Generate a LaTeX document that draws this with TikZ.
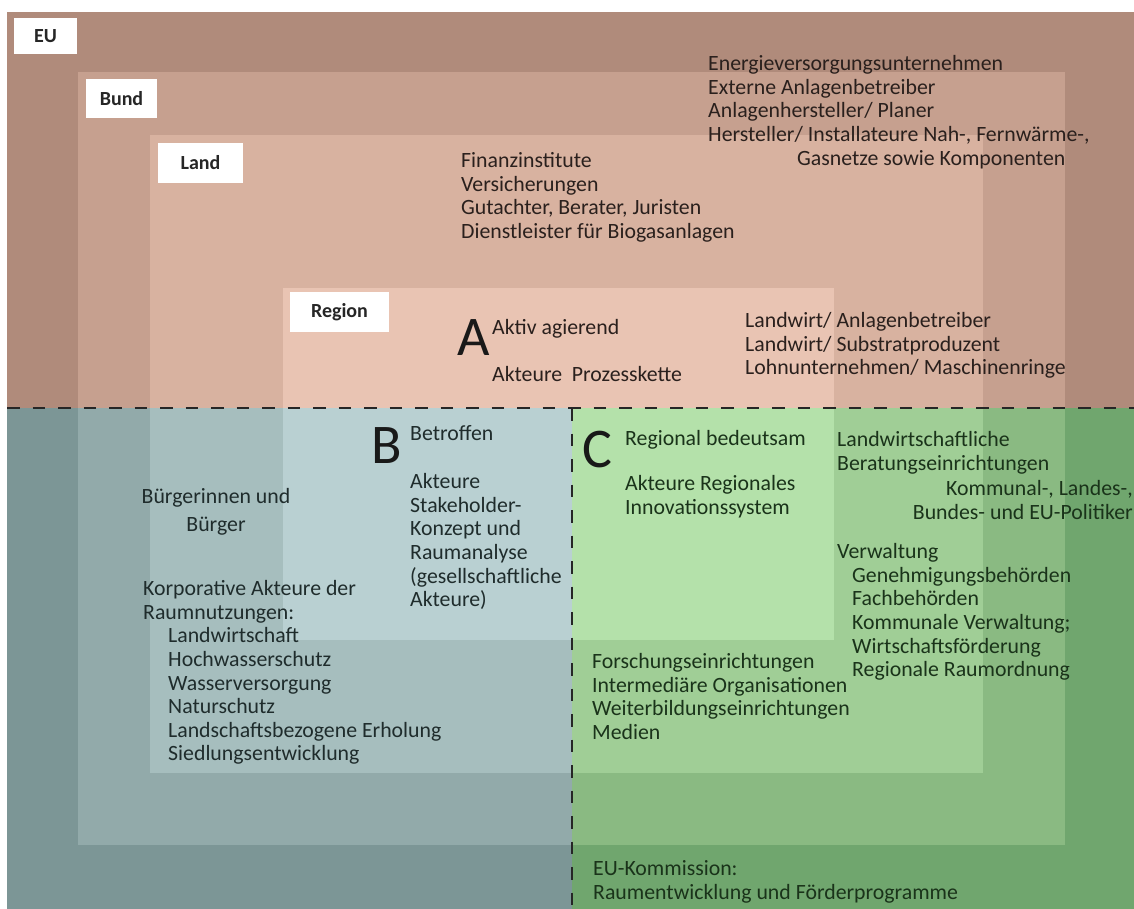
\documentclass[tikz,border=0pt]{standalone}
\usepackage{fontspec}
\setmainfont{Carlito}
\definecolor{upEU}{HTML}{B08B7B}
\definecolor{upBund}{HTML}{C6A08F}
\definecolor{upLand}{HTML}{D8B2A0}
\definecolor{upRegion}{HTML}{E9C4B3}
\definecolor{blEU}{HTML}{7C9696}
\definecolor{blBund}{HTML}{92AAAA}
\definecolor{blLand}{HTML}{A6BEBE}
\definecolor{blRegion}{HTML}{B9D0D2}
\definecolor{grEU}{HTML}{70A66E}
\definecolor{grBund}{HTML}{8ABA82}
\definecolor{grLand}{HTML}{A0CE96}
\definecolor{grRegion}{HTML}{B4E1AA}
\definecolor{inkUp}{HTML}{2A201D}
\definecolor{inkBl}{HTML}{1F2C2C}
\definecolor{inkGr}{HTML}{1A331A}
\definecolor{divider}{HTML}{262626}
\begin{document}
\begin{tikzpicture}[x=1pt,y=-1pt,
  txt/.style={anchor=north west, inner sep=0pt, align=left,
    font=\fontsize{21.8}{23.6}\selectfont},
  bigletter/.style={anchor=base west, inner sep=0pt,
    font=\fontsize{56}{60}\selectfont, text=black!90},
  levellabel/.style={fill=white, inner sep=0pt, text=black!85,
    font=\fontsize{20}{24}\selectfont\bfseries},
  dividerline/.style={draw=divider, line width=2.5pt,
    dash pattern=on 12.5pt off 13pt}]
\useasboundingbox (0,0) rectangle (1134,909);

% nested levels: EU > Bund > Land > Region, tinted per sector
\begin{scope}
  \clip (7,12) rectangle (1134,408);
  \fill[upEU] (7,12) rectangle (1134,909);
  \fill[upBund] (78,72) rectangle (1065,845);
  \fill[upLand] (150,135) rectangle (983,773);
  \fill[upRegion] (283,288) rectangle (834,640);
\end{scope}
\begin{scope}
  \clip (7,408) rectangle (572,909);
  \fill[blEU] (7,12) rectangle (1134,909);
  \fill[blBund] (78,72) rectangle (1065,845);
  \fill[blLand] (150,135) rectangle (983,773);
  \fill[blRegion] (283,288) rectangle (834,640);
\end{scope}
\begin{scope}
  \clip (572,408) rectangle (1134,909);
  \fill[grEU] (7,12) rectangle (1134,909);
  \fill[grBund] (78,72) rectangle (1065,845);
  \fill[grLand] (150,135) rectangle (983,773);
  \fill[grRegion] (283,288) rectangle (834,640);
\end{scope}

% level labels
\node[levellabel, minimum width=63pt, minimum height=36pt] (eu) at (45.5,36) {EU};
\node[levellabel, minimum width=71pt, minimum height=39pt] (bund) at (121.5,98.5) {Bund};
\node[levellabel, minimum width=85pt, minimum height=40pt] (land) at (200.5,163) {Land};
\node[levellabel, minimum width=99pt, minimum height=40pt] (region) at (339.5,312) {Region};

% sector A: actors of the process chain
\begin{scope}[text=inkUp]
\node[txt] (energie) at (708,54) {\strut Energieversorgungsunternehmen\\
  Externe Anlagenbetreiber\\
  Anlagenhersteller/ Planer\\
  Hersteller/ Installateure Nah-, Fernwärme-,\\
  \hspace*{89pt}Gasnetze sowie Komponenten};
\node[txt] (finanz) at (461,151) {\strut Finanzinstitute\\
  Versicherungen\\
  Gutachter, Berater, Juristen\\
  Dienstleister für Biogasanlagen};
\node[txt] (aktiv) at (492,318) {\strut Aktiv agierend};
\node[txt] (prozess) at (492,365) {\strut Akteure\hspace{0.22em} Prozesskette};
\node[txt] (landwirt) at (745,311) {\strut Landwirt/ Anlagenbetreiber\\
  Landwirt/ Substratproduzent\\
  Lohnunternehmen/ Maschinenringe};
\end{scope}
\node[bigletter] (letterA) at (457,355) {A};

% sector B: affected actors
\begin{scope}[text=inkBl]
\node[txt] (betroffen) at (410,424) {\strut Betroffen};
\node[txt] (akteureB) at (410,472) {\strut Akteure\\
  Stakeholder-\\
  Konzept und\\
  Raumanalyse\\
  (gesellschaftliche\\
  Akteure)};
\node[txt, anchor=north, align=center] (buerger) at (216,487) {\strut Bürgerinnen und\\[4.5pt]
  Bürger};
\node[txt] (korporativ) at (143,579) {\strut Korporative Akteure der\\
  Raumnutzungen:\\
  \hspace*{25pt}Landwirtschaft\\
  \hspace*{25pt}Hochwasserschutz\\
  \hspace*{25pt}Wasserversorgung\\
  \hspace*{25pt}Naturschutz\\
  \hspace*{25pt}Landschaftsbezogene Erholung\\
  \hspace*{25pt}Siedlungsentwicklung};
\end{scope}
\node[bigletter] (letterB) at (371,463) {B};

% sector C: regional innovation system
\begin{scope}[text=inkGr]
\node[txt] (regional) at (625,429) {\strut Regional bedeutsam};
\node[txt] (akteureC) at (625,474) {\strut Akteure Regionales\\
  Innovationssystem};
\node[txt] (beratung) at (837,430) {\strut Landwirtschaftliche\\
  Beratungseinrichtungen};
\node[txt, anchor=north east, align=right] (politiker) at (1133,479) {\strut Kommunal-, Landes-,\\
  Bundes- und EU-Politiker};
\node[txt] (verwaltung) at (837,542) {\strut Verwaltung\\
  \hspace*{15pt}Genehmigungsbehörden\\
  \hspace*{15pt}Fachbehörden\\
  \hspace*{15pt}Kommunale Verwaltung;\\
  \hspace*{15pt}Wirtschaftsförderung\\
  \hspace*{15pt}Regionale Raumordnung};
\node[txt] (forschung) at (592,652) {\strut Forschungseinrichtungen\\
  Intermediäre Organisationen\\
  Weiterbildungseinrichtungen\\
  Medien};
\node[txt] (kommission) at (593,859) {\strut EU-Kommission:\\
  Raumentwicklung und Förderprogramme};
\end{scope}
\node[bigletter] (letterC) at (582,467) {C};

% sector dividers
\coordinate (divW) at (7,408);
\coordinate (divE) at (1134,408);
\coordinate (divN) at (572,408);
\coordinate (divS) at (572,909);
\draw[dividerline] (divW) -- (divE);
\draw[dividerline] (divN) -- (divS);
\end{tikzpicture}
\end{document}
